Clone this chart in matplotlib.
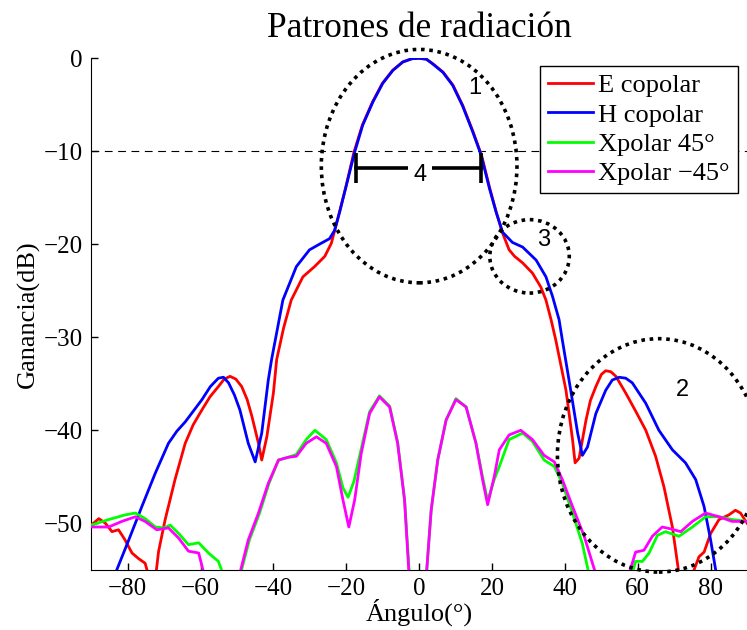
import matplotlib
matplotlib.use("Agg")
import matplotlib.pyplot as plt
from matplotlib.patches import Ellipse

plt.rcParams['font.family'] = ['Liberation Serif', 'DejaVu Serif']
plt.rcParams['axes.unicode_minus'] = True

# Patrón copolar plano E
e_ang = [-90, -87.9, -86.1, -84.3, -82.5, -80.7, -78.8, -77.0, -75.2, -74.0, -72.4,
         -71.5, -69.7, -67.0, -64.2, -62.0, -59.6, -57.4, -55.1, -53.5, -51.9, -50.3,
         -48.7, -47.2, -45.9, -44.1, -43.2, -41.8, -40.0, -39.1, -37.2, -35.1, -31.9,
         -28.7, -25.9, -24.1, -23.3, -21.9, -20.1, -17.9, -15.6, -12.8, -10.1, -7.3,
         -4.5, -2.0, 0, 2.0, 3.8, 6.6, 9.3, 12.0, 14.8, 17.1, 19.4, 21.2, 22.9, 24.7,
         26.2, 28.4, 31.1, 33.4, 34.8, 36.2, 37.5, 40.3, 42.1, 42.8, 43.9, 45.8,
         47.0, 48.5, 50.0, 51.2, 52.6, 54.0, 56.7, 59.5, 62.2, 64.9, 67.2, 69.5, 71.5,
         74.5, 76.8, 78.2, 80.0, 82.3, 85.0, 86.8, 88.2, 90]
e_gain = [-50.2, -49.5, -50.0, -50.9, -50.7, -51.8, -53.2, -53.8, -54.3, -56, -56,
          -53.0, -49.6, -45.3, -41.4, -39.4, -37.8, -36.4, -35.3, -34.5, -34.2, -34.5,
          -35.3, -36.7, -38.5, -41.4, -43.2, -40.7, -36.0, -32.4, -29.0, -26.0, -23.5,
          -22.4, -21.3, -19.9, -18.7, -16.6, -13.8, -10.1, -7.2, -4.7, -2.7, -1.3,
          -0.4, -0.05, 0, -0.1, -0.6, -1.5, -2.9, -5.1, -7.9, -10.4, -14.0, -16.6, -18.8,
          -20.6, -21.3, -22.0, -23.1, -24.6, -26.0, -28.1, -30.3, -35.7, -41.0,
          -43.5, -43.0, -38.9, -36.8, -35.3, -34.0, -33.6, -33.7, -34.2, -36.0, -38.0,
          -40.0, -42.8, -46.1, -50.4, -56, -56, -53.6, -53.1, -51.1, -49.6, -49.1,
          -48.6, -48.9, -50.0]

# Patrón copolar plano H
h_ang = [-84.0, -79.7, -76.1, -72.4, -68.8, -66.5, -64.2, -59.6, -57.3, -55.1, -53.7,
         -52.3, -50.7, -49.2, -46.9, -45.0, -43.2, -41.4, -40.5, -37.4, -33.7, -30.1,
         -27.4, -24.6, -23.2, -21.8, -20.0, -17.7, -15.5, -12.7, -10.0, -7.2, -4.5,
         -2.0, 0, 2.0, 3.7, 6.5, 9.2, 11.9, 14.7, 17.0, 19.3, 21.1, 22.9, 25.6, 28.4,
         32.1, 34.8, 36.6, 38.4, 39.3, 41.6, 43.5, 44.8, 46.2, 48.5, 51.2,
         53.0, 54.9, 56.7, 58.5, 62.2, 65.8, 69.5, 73.1, 75.9, 78.2, 80.0, 81.8]
h_gain = [-56, -51.8, -48.2, -44.6, -41.4, -40.1, -39.1, -36.7, -35.3, -34.4, -34.3,
          -34.9, -36.2, -37.8, -41.4, -43.4, -40.3, -34.6, -32.4, -26.0, -22.4, -20.6,
          -20.0, -19.4, -18.5, -16.5, -13.7, -10.1, -7.2, -4.7, -2.7, -1.3, -0.4,
          -0.05, 0, -0.1, -0.6, -1.5, -2.9, -5.1, -7.9, -10.4, -14.0, -16.5, -18.7,
          -19.8, -20.3, -21.7, -23.5, -25.6, -28.1, -30.3, -35.7, -40.3,
          -42.7, -41.8, -38.2, -35.7, -34.6, -34.3, -34.4, -34.9, -37.1, -40.0, -42.1,
          -43.5, -45.3, -48.2, -51.8, -56]

# Polarización cruzada a 45°
x45_ang = [-90, -85.2, -80.7, -77.9, -75.2, -72.4, -70.1, -68.3, -66.0, -63.3, -60.5,
           -57.8, -55.1, -53.3, -49.4, -46.6, -43.8, -41.2, -38.6, -35.9, -33.7, -31.0,
           -28.6, -25.5, -22.7, -20.9, -19.5, -17.9, -15.9, -13.6, -10.9, -8.1, -5.9,
           -4.0, -2.6, 1.9, 3.3, 5.1, 7.4, 10.1, 12.9, 15.6, 17.4, 18.8, 20.6, 22.0,
           24.7, 28.4, 31.1, 34.3, 37.1, 39.3, 42.1, 44.8, 46.9, 58.1, 59.4, 61.3, 63.1,
           65.4, 67.6, 71.3, 75.0, 78.6, 82.3, 85.9, 90]
x45_gain = [-50.2, -49.6, -49.1, -48.9, -49.5, -50.4, -50.5, -50.2, -51.1, -52.3, -52.1,
            -53.2, -54.1, -56, -56, -51.8, -48.9, -45.7, -43.2, -42.9, -42.6, -41.0,
            -40.0, -41.0, -43.5, -46.2, -47.2, -45.5, -42.0, -38.0, -36.3, -37.4, -41.3,
            -47.5, -56, -56, -48.6, -43.2, -38.9, -36.6, -37.5, -41.4, -45.0, -47.6,
            -45.3, -43.9, -41.0, -40.3, -41.2, -43.2, -43.9, -45.7, -48.9, -52.2, -56,
            -56, -54.1, -54.1, -53.2, -51.3, -50.9, -51.4, -50.4, -49.3, -49.3, -49.6,
            -49.8]

# Polarización cruzada a -45°
xm45_ang = [-90, -85.2, -81.6, -77.9, -75.2, -72.0, -68.8, -66.0, -63.3, -60.5, -58.7,
            -49.6, -46.9, -44.1, -41.4, -38.6, -35.9, -33.7, -31.0, -28.2, -25.5, -22.7,
            -20.9, -19.3, -17.7, -15.9, -13.6, -10.9, -8.1, -5.9, -4.0, -2.7, 1.9, 3.3,
            5.1, 7.4, 10.1, 12.9, 15.6, 17.4, 18.8, 20.6, 22.0, 24.7, 27.9, 31.1, 34.3,
            37.1, 39.3, 42.1, 45.3, 48.9, 57.2, 59.4, 61.7, 64.0, 66.7, 69.0, 71.8, 75.0,
            78.6, 82.3, 85.9, 90]
xm45_gain = [-50.4, -50.4, -49.8, -49.3, -49.8, -50.7, -50.5, -51.6, -53.0, -53.2, -56,
             -56, -51.8, -48.9, -45.7, -43.2, -42.9, -42.8, -41.4, -40.7, -41.4, -43.9,
             -47.5, -50.4, -47.5, -42.5, -38.2, -36.4, -37.5, -41.4, -47.5, -56, -56, -48.6,
             -43.2, -38.9, -36.7, -37.5, -41.4, -45.3, -48.0, -45.0, -42.1, -40.5, -40.0,
             -41.0, -42.7, -43.4, -45.3, -48.2, -51.4, -56, -56, -53.1, -52.9, -51.4, -50.4,
             -50.6, -50.9, -49.8, -48.9, -49.3, -49.8, -49.8]

series_names = ['E copolar', 'H copolar', 'Xpolar 45°', 'Xpolar \u221245°']
series_colors = ['#ff0000', '#0000ff', '#00ff00', '#ff00ff']

fig = plt.figure(figsize=(7.47, 6.3), dpi=100)
ax = fig.add_axes([0.1221, 0.0956, 0.878, 0.8119])

for (xs, ys), name, col in zip([(e_ang, e_gain), (h_ang, h_gain),
                                (x45_ang, x45_gain), (xm45_ang, xm45_gain)],
                               series_names, series_colors):
    ax.plot(xs, ys, color=col, lw=2.0, label=name, zorder=3)

# nivel de -10 dB
ax.axhline(-10, color='black', lw=0.8, ls=(0, (7, 5)), zorder=2)

# zonas marcadas
dot = (0, (1, 1.3))
for cx, cy, w, h in [(0, -11.6, 53.7, 25.1), (65.8, -42.7, 55.7, 25.1),
                     (30.3, -21.3, 21.8, 7.9)]:
    ax.add_patch(Ellipse((cx, cy), w, h, fill=False, ec='black', lw=2.6,
                         ls=dot, clip_on=False, zorder=4))

# ancho de haz a -10 dB
bw_left, bw_right, bw_y = -17.3, 17.1, -11.8
ax.plot([bw_left, bw_right], [bw_y, bw_y], color='black', lw=2.6, zorder=5)
ax.vlines([bw_left, bw_right], -10.15, -13.4, color='black', lw=2.6, zorder=5)

num_font = dict(family='Liberation Sans', fontsize=17, ha='center', va='center', zorder=6)
ax.text(0.3, -12.5, '4', bbox=dict(fc='white', ec='none', pad=4), **num_font)
ax.text(15.2, -3.2, '1', **num_font)
ax.text(72.2, -35.7, '2', **num_font)
ax.text(34.3, -19.5, '3', **num_font)

ax.set_xlim(-90, 90)
ax.set_ylim(-55, 0)
ax.set_xticks(range(-80, 81, 20))
ax.set_yticks(range(-50, 1, 10))
ax.tick_params(direction='in', length=5, width=1, labelsize=18)
ax.tick_params(axis='x', pad=6)
ax.tick_params(axis='y', pad=6)
ax.spines['top'].set_visible(False)
ax.spines['right'].set_visible(False)

ax.set_title('Patrones de radiación', fontsize=25.5, pad=15)
ax.set_xlabel('Ángulo(°)', fontsize=19, labelpad=-1)
ax.set_ylabel('Ganancia(dB)', fontsize=19, labelpad=3)

leg = ax.legend(loc='upper right', bbox_to_anchor=(0.986, 0.985), borderaxespad=0,
                fontsize=19, fancybox=False, edgecolor='black', framealpha=1,
                labelspacing=0.22, borderpad=0.3, handlelength=1.7, handletextpad=0.2)
leg.get_frame().set_linewidth(1.0)
leg.set_zorder(7)

fig.savefig('out.png', dpi=100)
